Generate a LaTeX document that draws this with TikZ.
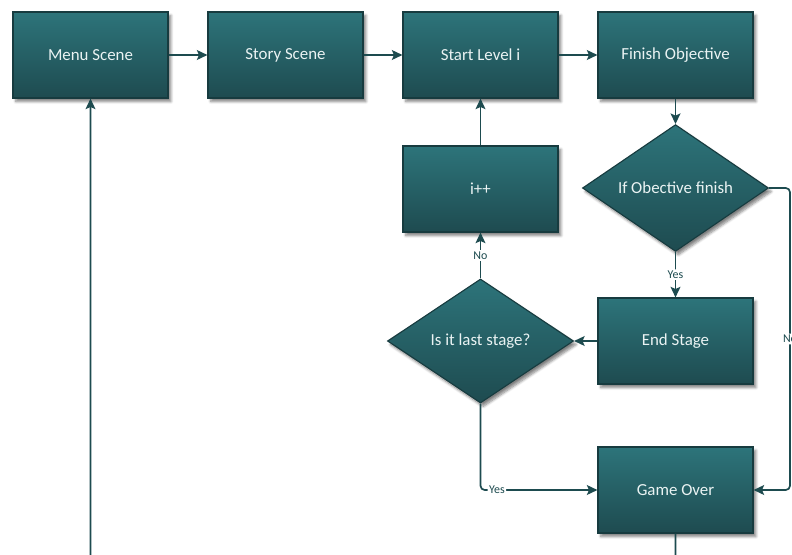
\documentclass[tikz,border=0pt]{standalone}
\usepackage{fontspec}
\setmainfont{Carlito}
\usepackage{tikz}
\usetikzlibrary{shapes,arrows.meta,positioning,calc,shadows.blur}

\definecolor{boxtop}{HTML}{2D747A}
\definecolor{boxbottom}{HTML}{1E4B50}
\definecolor{boxline}{HTML}{173B3F}
\definecolor{flowline}{HTML}{1D4B4F}
\definecolor{boxtext}{HTML}{EAF3F3}

\begin{document}
\begin{tikzpicture}[
    node distance=4.875cm,
    thick,
    scene/.style={rectangle, draw=boxline, top color=boxtop, bottom color=boxbottom, minimum width=3.875cm, minimum height=2.15cm, text=boxtext, font=\fontsize{12}{14}\selectfont, blur shadow={shadow xshift=2pt, shadow yshift=-2.5pt, shadow blur steps=6, shadow opacity=50}},
    decision/.style={diamond, draw=boxline, top color=boxtop, bottom color=boxbottom, minimum width=4.65cm, minimum height=3.1cm, inner sep=0pt, text=boxtext, font=\fontsize{12}{14}\selectfont, blur shadow={shadow xshift=2pt, shadow yshift=-2.5pt, shadow blur steps=6, shadow opacity=50}},
    answer/.style={fill=white, inner sep=1pt, text=flowline, font=\fontsize{8.5}{10}\selectfont},
    arrow/.style={line width=1.2pt, draw=flowline, ->, >={Stealth[length=7.5pt, width=7pt, inset=1.5pt]}, rounded corners=3pt}
]
\useasboundingbox (-2.2625,1.375) rectangle (17.5375,-12.475);
\clip (-2.2625,1.375) rectangle (17.5375,-12.475);
% Top row
\node[scene] (menu) {Menu Scene};
\node[scene, right of=menu] (story) {Story Scene};
\node[scene, right of=story] (start_level) {Start Level i};
\node[scene, right of=start_level] (finish_objective) {Finish Objective};
% Checks
\node[decision, below of=finish_objective, node distance=3.325cm] (objective_check) {If Obective finish};
\node[scene, below of=start_level, node distance=3.35cm] (next_level) {i++};
\node[scene, below of=objective_check, node distance=3.825cm] (end_stage) {End Stage};
\node[decision, left of=end_stage] (stage_check) {Is it last stage?};
\node[scene, below of=end_stage, node distance=3.725cm] (game_over) {Game Over};
% Turning points
\coordinate (no_turn) at (17.4875,0 |- objective_check.east);
\coordinate (back_turn) at ($(game_over.south)+(0,-1)$);
% Arrows
\draw[arrow] (menu) -- (story);
\draw[arrow] (story) -- (start_level);
\draw[arrow] (start_level) -- (finish_objective);
\draw[arrow] (finish_objective) -- (objective_check);
\draw[arrow] (objective_check) -- node[answer] {Yes} (end_stage);
\draw[arrow] (objective_check.east) -- (no_turn) |- node[answer, pos=0.25] {No} (game_over.east);
\draw[arrow] (end_stage) -- (stage_check);
\draw[arrow] (stage_check) -- node[answer] {No} (next_level);
\draw[arrow] (stage_check.south) |- node[answer, pos=0.57] {Yes} (game_over.west);
\draw[arrow] (next_level) -- (start_level);
\draw[arrow] (game_over.south) -- (back_turn) -| (menu.south);
\end{tikzpicture}
\end{document}
